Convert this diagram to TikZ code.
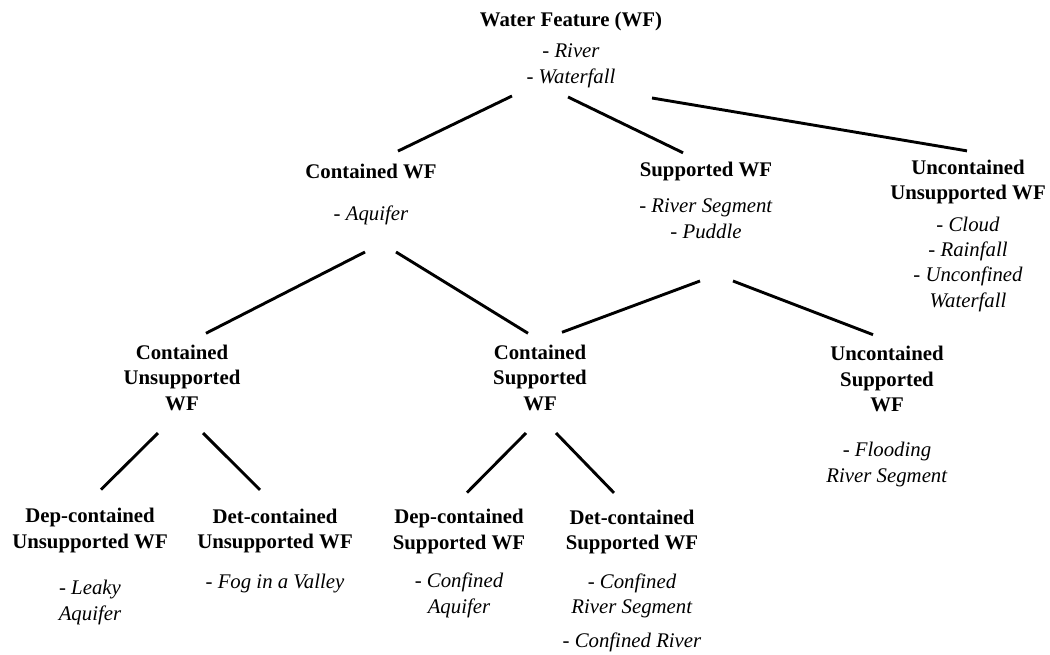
\documentclass[tikz,border=0pt]{standalone}
\usepackage{fontspec}
\setmainfont{Liberation Serif}
\usetikzlibrary{positioning}

\tikzset{
  wfnode/.style={align=center, inner sep=0pt, anchor=base, font=\fontsize{20.8}{25.3}\selectfont},
  link/.style={line width=2.9pt},
}
\newcommand{\wfname}[1]{\textbf{#1}}
\newcommand{\wfex}[1]{\textit{- #1}}

\begin{document}
\begin{tikzpicture}[x=1pt, y=-1pt]
\useasboundingbox (0,0) rectangle (1050,654);
% top (nodes sit on the baseline of their last line)
\node[wfnode] (root) at (571,83) {\wfname{Water Feature (WF)}\\[5.5pt]\wfex{River}\\\wfex{Waterfall}};
% second level
\node[wfnode] (cwf) at (371,220) {\wfname{Contained WF}\\[16.5pt]\wfex{Aquifer}};
\node[wfnode] (swf) at (706,238) {\wfname{Supported WF}\\[10.5pt]\wfex{River Segment}\\\wfex{Puddle}};
\node[wfnode] (uuwf) at (968,307) {\wfname{Uncontained}\\\wfname{Unsupported WF}\\[6.5pt]\wfex{Cloud}\\\wfex{Rainfall}\\\wfex{Unconfined}\\\textit{Waterfall}};
% third level
\node[wfnode] (cuwf) at (182,410) {\wfname{Contained}\\\wfname{Unsupported}\\\wfname{WF}};
\node[wfnode] (cswf) at (540,410) {\wfname{Contained}\\\wfname{Supported}\\\wfname{WF}};
\node[wfnode] (ucswf) at (887,482) {\wfname{Uncontained}\\\wfname{Supported}\\\wfname{WF}\\[20pt]\wfex{Flooding}\\\textit{River Segment}};
% bottom
\node[wfnode] (dcuwf) at (90,620) {\wfname{Dep-contained}\\\wfname{Unsupported WF}\\[21.4pt]\wfex{Leaky}\\\textit{Aquifer}};
\node[wfnode] (dtuwf) at (275,588) {\wfname{Det-contained}\\\wfname{Unsupported WF}\\[14.4pt]\wfex{Fog in a Valley}};
\node[wfnode] (dcswf) at (459,613) {\wfname{Dep-contained}\\\wfname{Supported WF}\\[13.4pt]\wfex{Confined}\\\textit{Aquifer}};
\node[wfnode] (dtswf) at (632,647) {\wfname{Det-contained}\\\wfname{Supported WF}\\[13.4pt]\wfex{Confined}\\\textit{River Segment}\\[8.4pt]\wfex{Confined River}};

\draw[link] ([xshift=-59pt,yshift=-13pt]root.base) -- ([xshift=27pt,yshift=12.5pt]cwf.north);
\draw[link] ([xshift=-3pt,yshift=-14pt]root.base) -- ([xshift=-23pt,yshift=9.5pt]swf.north);
\draw[link] ([xshift=81pt,yshift=-15pt]root.base) -- ([xshift=-1pt,yshift=8.5pt]uuwf.north);
\draw[link] ([xshift=-6pt,yshift=-32pt]cwf.base) -- ([xshift=24pt,yshift=11.5pt]cuwf.north);
\draw[link] ([xshift=25pt,yshift=-32pt]cwf.base) -- ([xshift=-12pt,yshift=11.5pt]cswf.north);
\draw[link] ([xshift=-6pt,yshift=-43pt]swf.base) -- ([xshift=22pt,yshift=12.5pt]cswf.north);
\draw[link] ([xshift=27pt,yshift=-43pt]swf.base) -- ([xshift=-14pt,yshift=11.5pt]ucswf.north);
\draw[link] ([xshift=-24pt,yshift=-23pt]cuwf.base) -- ([xshift=11pt,yshift=18.5pt]dcuwf.north);
\draw[link] ([xshift=21pt,yshift=-23pt]cuwf.base) -- ([xshift=-15pt,yshift=18.5pt]dtuwf.north);
\draw[link] ([xshift=-14pt,yshift=-23pt]cswf.base) -- ([xshift=8pt,yshift=16.5pt]dcswf.north);
\draw[link] ([xshift=16pt,yshift=-23pt]cswf.base) -- ([xshift=-18pt,yshift=16.5pt]dtswf.north);
\end{tikzpicture}
\end{document}
